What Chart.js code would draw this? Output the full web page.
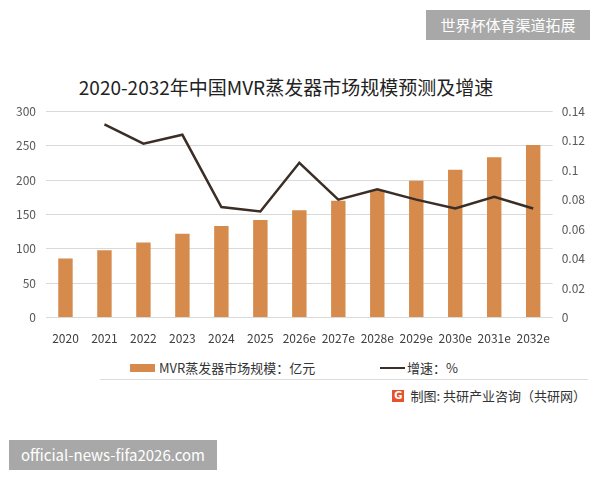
<!DOCTYPE html>
<html lang="zh-CN">
<head>
    <meta charset="UTF-8">
    <title>2020-2032年中国MVR蒸发器市场规模预测及增速</title>
    <script src="https://cdn.jsdelivr.net/npm/chart.js"></script>
    <style>
        body { margin: 0; width: 600px; height: 480px; background: #fff; position: relative; overflow: hidden;
               font-family: "Noto Sans CJK SC", "Noto Sans", sans-serif; }
        #title { position: absolute; left: 0; width: 572px; top: 73px; text-align: center; font-size: 19px; color: #222; }
        #chartBox { position: absolute; left: 0; top: 94px; width: 600px; height: 258px; }
        #legend { position: absolute; top: 358px; left: 0; width: 600px; font-size: 13px; color: #333; }
        .lg { position: absolute; display: flex; align-items: center; white-space: nowrap; }
        .sw-bar { width: 25px; height: 8px; background: #d68b4c; margin-right: 4px; }
        .sw-line { width: 25px; height: 2px; background: #3b2e27; margin-right: 2px; }
        #sep { position: absolute; left: 100px; width: 488px; top: 379px; height: 1px; background: #dcdcdc; }
        #source { position: absolute; right: 14px; top: 386px; font-size: 13px; color: #333; display: flex; align-items: center; }
        #source .g { width: 12px; height: 12px; background: #e5532d; color: #fff; font-size: 10px; line-height: 12px;
                     text-align: center; font-weight: bold; margin-right: 6px; font-family: "DejaVu Sans", sans-serif; }
        .wm { position: absolute; background: #a8a8a8; color: #fff; text-align: center; }
        #wm1 { left: 426px; top: 10px; width: 164px; height: 30px; line-height: 30px; font-size: 15px; }
        #wm2 { left: 9px; top: 440px; width: 208px; height: 30px; line-height: 30px; font-size: 15px; }
    </style>
</head>
<body>
    <div id="title">2020-2032年中国MVR蒸发器市场规模预测及增速</div>
    <div id="chartBox"><canvas id="mvrChart"></canvas></div>
    <div id="legend">
        <div class="lg" style="left:130px"><span class="sw-bar"></span>MVR蒸发器市场规模：亿元</div>
        <div class="lg" style="left:380px"><span class="sw-line"></span>增速：%</div>
    </div>
    <div id="sep"></div>
    <div id="source"><span class="g">G</span>制图: 共研产业咨询（共研网）</div>
    <div class="wm" id="wm1">世界杯体育渠道拓展</div>
    <div class="wm" id="wm2">official-news-fifa2026.com</div>

    <script>
        // data
        const years = ['2020', '2021', '2022', '2023', '2024', '2025', '2026e', '2027e', '2028e', '2029e', '2030e', '2031e', '2032e'];
        const marketSize = [86, 98, 109, 122, 133, 142, 156, 170, 185, 199, 215, 233, 251];
        const growthRate = [null, 0.131, 0.118, 0.124, 0.075, 0.072, 0.105, 0.080, 0.087, 0.080, 0.074, 0.082, 0.074];

        const tickFont = { family: '"Noto Sans CJK SC", sans-serif', size: 12 };

        const ctx = document.getElementById('mvrChart').getContext('2d');
        new Chart(ctx, {
            type: 'bar',
            data: {
                labels: years,
                datasets: [
                    {
                        type: 'line',
                        label: '增速：%',
                        data: growthRate,
                        yAxisID: 'y1',
                        borderColor: '#3b2e27',
                        backgroundColor: '#3b2e27',
                        borderWidth: 2.5,
                        pointRadius: 0,
                        tension: 0
                    },
                    {
                        label: 'MVR蒸发器市场规模：亿元',
                        data: marketSize,
                        yAxisID: 'y',
                        backgroundColor: '#d68b4c',
                        barPercentage: 0.37,
                        categoryPercentage: 1
                    }
                ]
            },
            options: {
                responsive: true,
                maintainAspectRatio: false,
                animation: false,
                layout: { padding: { left: 6, right: 6, top: 2, bottom: 0 } },
                plugins: {
                    legend: { display: false },
                    tooltip: { enabled: false }
                },
                scales: {
                    x: {
                        grid: { display: false },
                        border: { display: false },
                        ticks: { color: '#404040', font: tickFont, padding: 6, maxRotation: 0, minRotation: 0, autoSkip: false }
                    },
                    y: {
                        position: 'left',
                        min: 0,
                        max: 300,
                        ticks: { stepSize: 50, color: '#595959', font: tickFont, padding: 10 },
                        grid: { color: '#d9d9d9', drawTicks: false },
                        border: { display: false }
                    },
                    y1: {
                        position: 'right',
                        min: 0,
                        max: 0.14,
                        ticks: {
                            stepSize: 0.02,
                            color: '#595959',
                            font: tickFont,
                            padding: 9,
                            callback: value => String(+value.toFixed(2))
                        },
                        grid: { drawOnChartArea: false, drawTicks: false },
                        border: { display: false }
                    }
                }
            }
        });
    </script>
</body>
</html>
